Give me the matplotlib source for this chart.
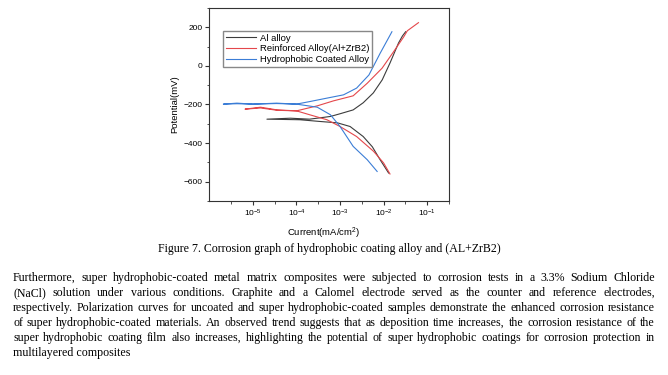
import numpy as np
import matplotlib
matplotlib.use('Agg')
import matplotlib.pyplot as plt
from matplotlib.ticker import LogLocator, MultipleLocator

# polarization curves: cathodic end -> around Ecorr -> anodic end
al_current = [1.3e-2, 8.3e-3, 5.5e-3, 3.4e-3, 1.7e-3, 8.7e-4, 3.5e-4, 1.2e-4, 2.1e-5,
              7.2e-5, 2.0e-4, 6.0e-4, 1.0e-3, 2.0e-3, 3.4e-3, 5.8e-3, 9.3e-3,
              1.4e-2, 2.2e-2, 2.7e-2, 3.2e-2]
al_potential = [-555, -486, -419, -366, -314, -295, -288, -279, -276,
                -271, -276, -262, -248, -228, -191, -140, -72,
                15, 119, 155, 177]

zrb2_current = [1.4e-2, 1.0e-2, 5.9e-3, 2.4e-3, 1.0e-3, 5.0e-4, 2.0e-4, 1.0e-4,
                3.6e-5, 1.5e-5, 6.6e-6,
                1.5e-5, 3.6e-5, 1.0e-4, 3.0e-4, 7.1e-4, 2.0e-3, 4.2e-3, 9.2e-3,
                1.7e-2, 2.9e-2, 3.5e-2, 6.3e-2]
zrb2_potential = [-560, -503, -443, -366, -314, -279, -253, -233,
                  -230, -218, -224,
                  -214, -228, -233, -207, -181, -155, -90, -12,
                  74, 151, 182, 224]

coat_current = [7.1e-3, 4.2e-3, 2.0e-3, 1.0e-3, 6.0e-4, 3.0e-4, 1.0e-4,
                3.5e-5, 1.0e-5, 4.3e-6, 2.1e-6,
                4.3e-6, 1.0e-5, 3.5e-5, 1.0e-4, 2.0e-4, 5.0e-4, 1.2e-3, 2.4e-3,
                4.6e-3, 8.3e-3, 1.55e-2]
coat_potential = [-547, -486, -417, -314, -253, -214, -198,
                  -195, -198, -196, -198,
                  -193, -198, -193, -198, -185, -167, -150, -115,
                  -47, 65, 177]

labels = ['Al alloy', 'Reinforced Alloy(Al+ZrB2)', 'Hydrophobic Coated Alloy']
colors = ['#3c3c3c', '#e4474b', '#3b7dd6']

caption = 'Figure 7. Corrosion graph of hydrophobic coating alloy and (AL+ZrB2)'
paragraph = [
    'Furthermore, super hydrophobic-coated metal matrix composites were subjected to  corrosion tests in a 3.3% Sodium Chloride',
    '(NaCl) solution under various conditions. Graphite and a Calomel electrode served as the counter and reference electrodes,',
    'respectively. Polarization curves for uncoated and super hydrophobic-coated samples demonstrate the enhanced corrosion resistance',
    'of super hydrophobic-coated materials. An observed trend suggests that as deposition time increases, the corrosion resistance of the',
    'super hydrophobic coating film also increases, highlighting the potential of super hydrophobic coatings for corrosion protection in',
    'multilayered composites',
]

W, H = 668, 375
plt.rcParams['font.family'] = ['Liberation Sans', 'DejaVu Sans']
plt.rcParams['mathtext.fontset'] = 'custom'
plt.rcParams['mathtext.rm'] = 'Liberation Sans'
plt.rcParams['mathtext.it'] = 'Liberation Sans:italic'

fig = plt.figure(figsize=(W / 100, H / 100), dpi=100)
ax = fig.add_axes([209.3 / W, 1 - 201 / H, (449 - 209.3) / W, (201 - 8) / H])

ax.plot(al_current, al_potential, color=colors[0], lw=0.8, label=labels[0])
ax.plot(zrb2_current, zrb2_potential, color=colors[1], lw=0.8, label=labels[1])
ax.plot(coat_current, coat_potential, color=colors[2], lw=0.8, label=labels[2])

ax.set_xscale('log')
ax.xaxis.set_minor_locator(LogLocator(base=10, subs=[10 ** 0.5], numticks=10))
ax.yaxis.set_major_locator(MultipleLocator(200))
ax.yaxis.set_minor_locator(MultipleLocator(100))
ax.tick_params(which='major', length=3, width=0.8, labelsize=6, pad=2, color='#333333')
ax.tick_params(which='minor', length=1.8, width=0.6, color='#333333')
for s in ax.spines.values():
    s.set_linewidth(0.8)
    s.set_color('#333333')

ax.set_xticks([1e-5, 1e-4, 1e-3, 1e-2, 1e-1])
ax.set_xticklabels([r'$10^{-5}$', r'$10^{-4}$', r'$10^{-3}$', r'$10^{-2}$', r'$10^{-1}$'])
ax.set_xlim(1e-6, 10 ** -0.5)
ax.set_ylim(-700, 300)

ax.set_xlabel(r'Current(mA/cm$^2$)', fontsize=6.8)
ax.xaxis.set_label_coords((323.5 - 209.3) / (449 - 209.3), -0.13)
ax.set_ylabel('Potential(mV)', fontsize=6.8, labelpad=3)

ax.legend(loc='upper left', bbox_to_anchor=(0.058, 0.882), fontsize=6.8,
          frameon=True, fancybox=False, edgecolor='#888888', framealpha=1,
          borderaxespad=0, borderpad=0.3, handlelength=3.2, handletextpad=0.4,
          labelspacing=0.2)

serif = ['Liberation Serif', 'DejaVu Serif']
fig.text(329 / W, 1 - 252 / H, caption, family=serif, fontsize=8.6,
         ha='center', va='baseline')

# justified paragraph
renderer = fig.canvas.get_renderer()
x0, x1 = 13, 655
y_first, y_step = 281, 15
fs = 8.6
for i, line in enumerate(paragraph):
    y = 1 - (y_first + i * y_step) / H
    words = line.split()
    if i == len(paragraph) - 1:
        fig.text(x0 / W, y, line, family=serif, fontsize=fs, ha='left', va='baseline')
        continue
    texts = [fig.text(0, y, w, family=serif, fontsize=fs, ha='left', va='baseline') for w in words]
    widths = [t.get_window_extent(renderer).width for t in texts]
    gap = ((x1 - x0) - sum(widths)) / (len(words) - 1)
    x = x0
    for t, wd in zip(texts, widths):
        t.set_x(x / W)
        x += wd + gap

fig.savefig('out.png', dpi=100)
